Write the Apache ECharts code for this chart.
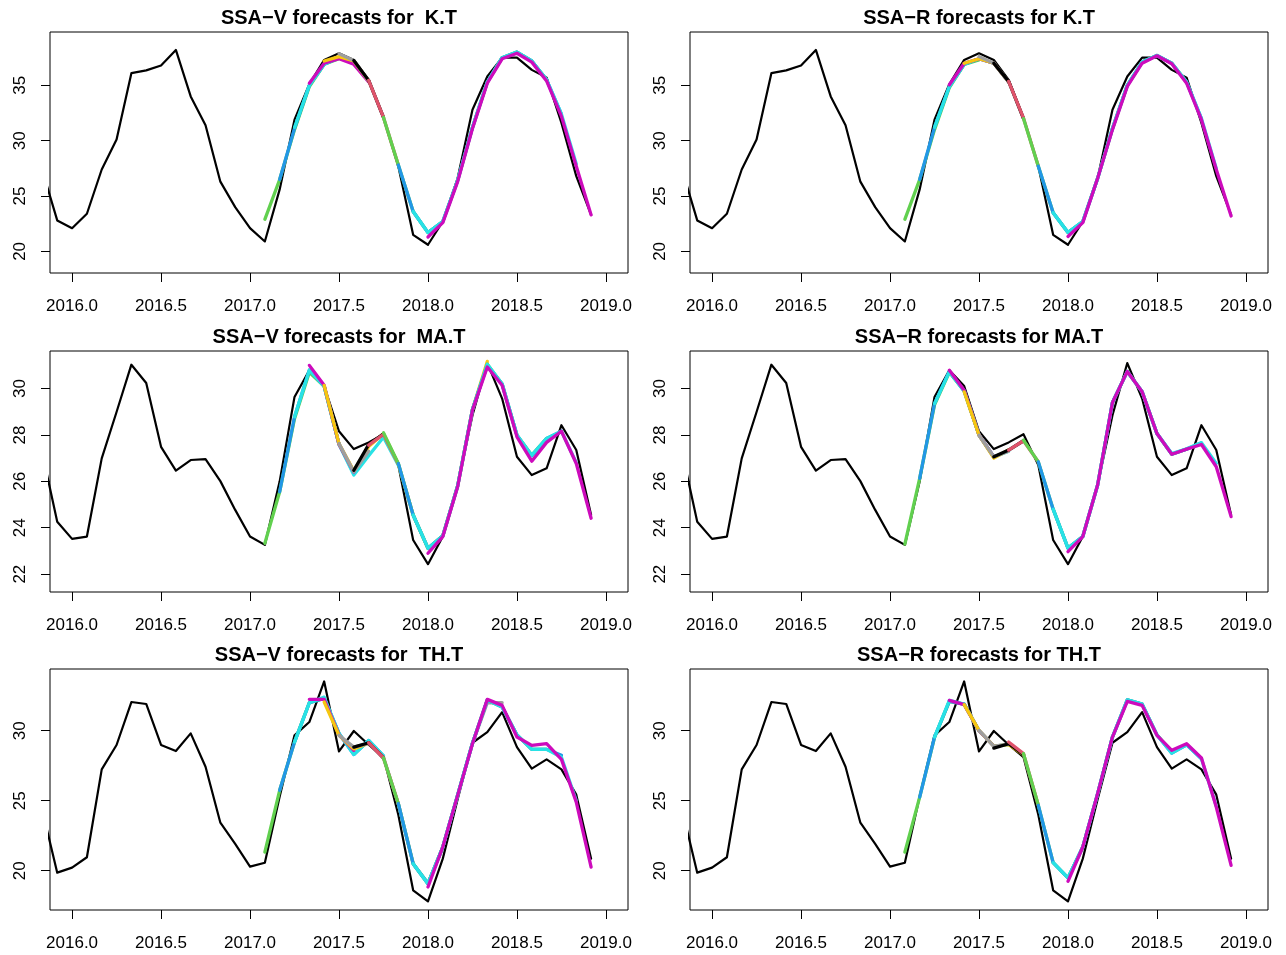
<!DOCTYPE html>
<html>
<head>
<meta charset="utf-8">
<script src="https://cdn.jsdelivr.net/npm/echarts@6/dist/echarts.min.js"></script>
<style>
  html, body { margin: 0; padding: 0; background: #fff; }
  #chart { width: 1286px; height: 955px; }
</style>
</head>
<body>
<div id="chart"></div>
<script>
// monthly series, first value is Nov 2015
const actualStart = 2015 + 10 / 12
// first forecast origin is Feb 2017, one new origin per month
const fcStart = 2017 + 1 / 12

const xTicks = [2016, 2016.5, 2017, 2017.5, 2018, 2018.5, 2019]
const ktTicks = [20, 25, 30, 35]
const maTicks = [22, 24, 26, 28, 30]
const thTicks = [20, 25, 30]

const ktActual = [27.3, 22.8, 22.1, 23.4, 27.4, 30.1, 36.1, 36.35, 36.8, 38.2, 34.0, 31.4, 26.3, 24.0,
  22.1, 20.9, 25.6, 31.9, 35.1, 37.3, 37.9, 37.3, 35.5, 32.05, 27.7, 21.5, 20.6, 22.7, 26.6, 32.8,
  35.8, 37.5, 37.5, 36.4, 35.7, 31.6, 26.8, 23.3]
const maActual = [27.2, 24.26, 23.52, 23.62, 26.99, 28.99, 31.03, 30.24, 27.49, 26.46, 26.92, 26.96,
  26.01, 24.77, 23.62, 23.26, 26.0, 29.64, 30.79, 30.11, 28.16, 27.39, 27.68, 28.03, 26.7, 23.47,
  22.43, 23.62, 25.84, 28.85, 31.1, 29.57, 27.06, 26.27, 26.56, 28.42, 27.35, 24.55]
const thActual = [24.3, 19.86, 20.22, 20.96, 27.24, 28.98, 32.05, 31.91, 28.98, 28.55, 29.81, 27.43,
  23.43, 21.91, 20.29, 20.57, 25.3, 29.67, 30.62, 33.52, 28.52, 29.98, 29.0, 28.12, 24.0, 18.6,
  17.81, 20.86, 25.1, 29.14, 29.9, 31.33, 28.83, 27.29, 27.95, 27.24, 25.43, 20.86]

// one row per forecast origin
const ktVFc = [
  [22.9, 26.5, 31.0, 34.9, 36.9, 37.4],
  [26.5, 31.1, 35.0, 36.9, 37.5, 37.1],
  [31.2, 35.0, 36.9, 37.5, 37.1, 35.4],
  [35.2, 37.0, 37.4, 36.9, 35.3],
  [37.2, 37.6, 37.2, 35.4],
  [37.85, 37.25, 35.4],
  [37.25, 35.45, 32.1],
  [35.45, 32.1, 27.8],
  [32.1, 27.8, 23.6, 21.7, 22.7, 26.4, 31.2, 35.3, 37.5, 38.0, 37.2, 35.5],
  [27.8, 23.6, 21.7, 22.7, 26.4, 31.2, 35.3, 37.5, 38.0, 37.2, 35.5, 32.4],
  [23.6, 21.7, 22.7, 26.4, 31.2, 35.3, 37.5, 38.0, 37.2, 35.5, 32.4, 27.9],
  [21.3, 22.6, 26.3, 31.1, 35.2, 37.4, 37.9, 37.1, 35.4, 32.2, 27.7, 23.3]
]
const ktRFc = [
  [22.9, 26.5, 31.0, 34.8, 36.9, 37.3],
  [26.5, 31.2, 34.9, 36.9, 37.4, 37.0],
  [31.2, 34.9, 36.9, 37.4, 37.0, 35.3],
  [35.05, 37.0, 37.4, 37.0, 35.3],
  [37.0, 37.4, 37.0, 35.3],
  [37.6, 37.0, 35.3],
  [37.0, 35.36, 32.0],
  [35.36, 32.04, 27.7],
  [32.0, 27.7, 23.5, 21.7, 22.7, 26.6, 31.1, 35.0, 37.1, 37.7, 37.0, 35.3],
  [27.7, 23.5, 21.7, 22.7, 26.6, 31.1, 35.0, 37.1, 37.7, 37.0, 35.3, 32.0],
  [23.5, 21.72, 22.7, 26.6, 31.1, 35.0, 37.1, 37.7, 37.0, 35.3, 32.0, 27.5],
  [21.35, 22.6, 26.6, 31.0, 34.9, 37.0, 37.67, 36.95, 35.2, 31.9, 27.4, 23.2]
]
const maVFc = [
  [23.33, 25.55, 28.7, 30.7, 30.1, 27.6],
  [25.55, 28.78, 30.8, 30.1, 27.6, 26.35],
  [28.78, 30.79, 30.1, 27.6, 26.27, 27.1, 27.9, 26.7],
  [31.0, 30.14, 27.6, 26.4],
  [30.14, 27.63, 26.45, 27.5, 28.05, 26.75, 24.55, 23.12, 23.65, 25.8, 29.1, 31.17],
  [27.63, 26.41, 27.3],
  [26.48, 27.59, 28.05],
  [27.56, 28.03, 26.75],
  [28.1, 26.77, 24.55, 23.1, 23.65, 25.8, 29.1, 31.05, 30.2, 27.99, 27.13, 27.85],
  [26.77, 24.55, 23.12, 23.65, 25.8, 29.1, 31.0, 30.2, 27.99, 27.1, 27.85, 28.16],
  [24.55, 23.12, 23.65, 25.8, 29.1, 31.05, 30.2, 27.99, 27.13, 27.85, 28.16, 26.8],
  [22.9, 23.62, 25.77, 29.07, 30.93, 30.14, 27.92, 26.87, 27.68, 28.16, 26.77, 24.41]
]
const maRFc = [
  [23.29, 26.13, 29.3, 30.7, 29.9, 28.0],
  [26.13, 29.35, 30.75, 29.9, 28.0, 27.05],
  [29.35, 30.72, 29.9, 28.0, 27.05, 27.3],
  [30.79, 29.93, 28.0, 27.05],
  [29.86, 27.99, 27.0, 27.35],
  [27.99, 27.06, 27.3],
  [27.06, 27.35, 27.75],
  [27.35, 27.75, 26.84],
  [27.78, 26.84, 24.8, 23.12, 23.62, 25.84, 29.4, 30.74, 29.86, 28.06, 27.17, 27.39],
  [26.84, 24.8, 23.12, 23.62, 25.84, 29.4, 30.74, 29.86, 28.06, 27.17, 27.39, 27.65],
  [24.8, 23.12, 23.62, 25.84, 29.4, 30.74, 29.86, 28.06, 27.2, 27.4, 27.67, 26.77],
  [22.97, 23.62, 25.84, 29.4, 30.74, 29.86, 28.06, 27.17, 27.39, 27.59, 26.63, 24.48]
]
const thVFc = [
  [21.33, 25.74, 29.2, 32.0, 32.3, 29.8],
  [25.74, 29.19, 32.0, 32.3, 29.8, 28.3, 29.3, 28.2],
  [29.19, 32.0, 32.4, 29.8, 28.3, 29.3, 28.2],
  [32.24, 32.24, 29.7, 28.6],
  [32.05, 29.67, 28.7, 29.1],
  [29.67, 28.83, 29.1, 28.1, 24.8, 20.5, 19.1, 21.7, 25.4, 29.1, 32.0, 32.0],
  [28.83, 29.14, 28.05],
  [29.14, 28.05, 24.79],
  [28.05, 24.79, 20.5, 19.07, 21.69, 25.4, 29.1, 32.2, 31.7, 29.7, 28.67, 28.67],
  [24.79, 20.5, 19.07, 21.69, 25.4, 29.1, 32.2, 31.7, 29.7, 28.67, 28.67, 28.24],
  [20.5, 19.07, 21.69, 25.4, 29.1, 32.2, 31.7, 29.7, 28.67, 28.67, 28.1, 25.0],
  [18.83, 21.69, 25.38, 29.07, 32.24, 31.81, 29.55, 28.95, 29.07, 27.95, 24.9, 20.26]
]
const thRFc = [
  [21.33, 25.26, 29.5, 32.1, 31.9, 30.0],
  [25.26, 29.55, 32.1, 31.9, 30.0, 28.9],
  [29.55, 32.17, 31.9, 30.0, 28.9, 29.0],
  [32.17, 31.86, 30.0, 28.9],
  [31.86, 30.02, 28.9, 29.0, 28.3],
  [30.02, 28.9, 29.05],
  [28.76, 29.07, 28.3],
  [29.19, 28.36, 24.67],
  [28.36, 24.67, 20.57, 19.48, 21.69, 25.5, 29.55, 32.2, 31.9, 29.7, 28.5, 29.0],
  [24.67, 20.57, 19.48, 21.69, 25.5, 29.55, 32.2, 31.9, 29.7, 28.4, 29.0, 28.0],
  [20.57, 19.48, 21.69, 25.5, 29.55, 32.2, 31.9, 29.7, 28.4, 29.0, 28.0, 24.6],
  [19.24, 21.69, 25.5, 29.55, 32.1, 31.81, 29.67, 28.6, 29.07, 28.05, 24.55, 20.38]
]

// R default palette, forecasts cycle through it starting at green
const palette = ['#000000', '#DF536B', '#61D04F', '#2297E6', '#28E2E5', '#CD0BBC', '#F5C710', '#9E9E9E']
const font = '"Liberation Sans", Arial, Helvetica, sans-serif'

const panels = [
  {title: 'SSA\u2212V forecasts for  K.T', actual: ktActual, fc: ktVFc, ticks: ktTicks, ymin: 18.05, ymax: 39.82},
  {title: 'SSA\u2212R forecasts for K.T', actual: ktActual, fc: ktRFc, ticks: ktTicks, ymin: 18.05, ymax: 39.82},
  {title: 'SSA\u2212V forecasts for  MA.T', actual: maActual, fc: maVFc, ticks: maTicks, ymin: 21.23, ymax: 31.62},
  {title: 'SSA\u2212R forecasts for MA.T', actual: maActual, fc: maRFc, ticks: maTicks, ymin: 21.23, ymax: 31.62},
  {title: 'SSA\u2212V forecasts for  TH.T', actual: thActual, fc: thVFc, ticks: thTicks, ymin: 17.19, ymax: 34.41},
  {title: 'SSA\u2212R forecasts for TH.T', actual: thActual, fc: thRFc, ticks: thTicks, ymin: 17.19, ymax: 34.41}
]

const colLeft = [50, 690]
const rowTop = [32, 351, 669]
const plotW = 578
const plotH = 241

const grids = []
const xAxes = []
const yAxes = []
const series = []
const titles = []

panels.forEach(function (p, i) {
  const left = colLeft[i % 2]
  const top = rowTop[Math.floor(i / 2)]
  grids.push({
    left: left, top: top, width: plotW, height: plotH,
    show: true, borderColor: '#000', borderWidth: 1, backgroundColor: 'transparent'
  })
  xAxes.push({
    type: 'value', gridIndex: i, min: 2015.876, max: 2019.124,
    axisLine: {show: false},
    splitLine: {show: false},
    axisTick: {show: true, inside: false, length: 9, customValues: xTicks, lineStyle: {color: '#000', width: 1}},
    axisLabel: {
      customValues: xTicks, color: '#000', fontSize: 17, fontFamily: font, margin: 25,
      formatter: function (v) { return v.toFixed(1) }
    }
  })
  yAxes.push({
    type: 'value', gridIndex: i, min: p.ymin, max: p.ymax,
    axisLine: {show: false},
    splitLine: {show: false},
    axisTick: {show: true, inside: false, length: 9, customValues: p.ticks, lineStyle: {color: '#000', width: 1}},
    axisLabel: {
      customValues: p.ticks, rotate: 90, color: '#000', fontSize: 17, fontFamily: font, margin: 21,
      formatter: function (v) { return String(v) }
    }
  })
  series.push({
    type: 'line', xAxisIndex: i, yAxisIndex: i, symbol: 'none', silent: true,
    data: p.actual.map(function (v, j) { return [actualStart + j / 12, v] }),
    lineStyle: {color: '#000', width: 2.2, cap: 'round', join: 'round'}
  })
  p.fc.forEach(function (vals, k) {
    const c = palette[(k + 2) % 8]
    series.push({
      type: 'line', xAxisIndex: i, yAxisIndex: i, symbol: 'none', silent: true,
      data: vals.map(function (v, j) { return [fcStart + (k + j) / 12, v] }),
      itemStyle: {color: c},
      lineStyle: {color: c, width: 3.3, cap: 'round', join: 'round'}
    })
  })
  titles.push({
    type: 'text', x: left + plotW / 2, y: top - 14,
    style: {
      text: p.title, fill: '#000', fontSize: 20, fontWeight: 'bold', fontFamily: font,
      align: 'center', verticalAlign: 'middle'
    }
  })
})

const chart = echarts.init(document.getElementById('chart'))
chart.setOption({
  animation: false,
  backgroundColor: '#fff',
  grid: grids,
  xAxis: xAxes,
  yAxis: yAxes,
  series: series,
  graphic: titles
})
</script>
</body>
</html>
